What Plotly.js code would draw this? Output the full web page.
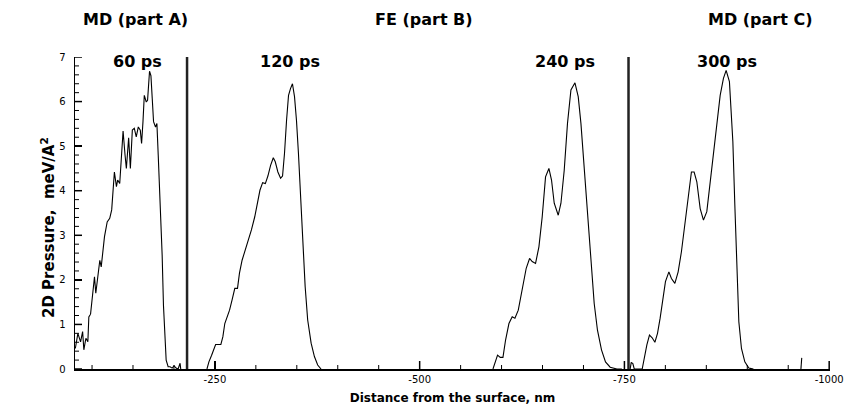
<!DOCTYPE html>
<html>
<head>
<meta charset="utf-8">
<script src="https://cdn.plot.ly/plotly-3.0.1.min.js"></script>
<style>html,body{margin:0;padding:0;background:#fff;}#chart{width:845px;height:411px;}</style>
</head>
<body>
<div id="chart"></div>
<script>
// 60 ps (MD part A)
const x60 = [-79.6,-82.7,-86.0,-88.5,-90.0,-92.5,-94.9,-96.1,-98.2,-100.6,-103.0,-104.6,-107.0,-109.5,-111.2,-112.8,-115.2,-118.5,-121.6,-124.0,-125.7,-127.3,-129.8,-131.3,-133.8,-135.5,-137.9,-140.3,-141.9,-144.7,-146.8,-149.2,-151.6,-154.0,-156.5,-158.9,-160.5,-162.2,-163.8,-166.2,-167.8,-170.2,-171.9,-173.5,-175.1,-177.5,-179.2,-180.8,-182.3,-184.0,-185.6,-187.2,-188.9,-190.5,-192.9,-195.3,-197.8,-200.2,-202.6,-205.1,-207.5,-208.3];
const y60 = [0.46,0.80,0.61,0.84,0.43,0.69,0.61,1.17,1.23,1.70,2.07,1.70,2.11,2.44,2.29,2.56,2.97,3.30,3.38,3.57,3.94,4.42,4.09,4.24,4.16,4.57,5.34,4.80,4.50,5.19,4.50,5.36,5.40,5.21,5.43,5.36,5.06,5.55,6.14,5.99,6.03,6.68,6.58,6.07,5.55,5.43,5.51,4.80,4.20,3.53,2.56,1.43,0.61,0.20,0.05,0.05,0.02,0.07,0.02,0.00,0.13,0.00];
// 120 ps (FE part B)
const x120 = [-240.3,-242.7,-246.0,-250.9,-257.3,-259.7,-262.1,-264.6,-267.9,-271.0,-274.3,-277.6,-280.0,-283.2,-286.4,-290.4,-294.6,-298.6,-301.9,-305.0,-308.3,-311.6,-314.7,-318.0,-321.3,-323.7,-326.9,-330.2,-332.6,-335.0,-337.5,-339.9,-342.3,-344.7,-347.2,-349.6,-352.0,-354.5,-356.9,-360.2,-363.3,-367.5,-371.5,-375.5,-379.6];
const y120 = [0,0.16,0.31,0.55,0.55,0.72,1.02,1.14,1.32,1.55,1.81,1.81,2.15,2.44,2.63,2.82,3.12,3.41,3.72,4.01,4.18,4.16,4.33,4.57,4.74,4.65,4.42,4.28,4.33,4.84,5.58,6.14,6.29,6.40,6.11,5.58,4.84,3.86,2.97,1.85,1.10,0.58,0.28,0.09,0];
// 240 ps (FE part B)
const x240 = [-589.5,-591.9,-595.1,-598.4,-601.7,-604.9,-609.0,-613.0,-616.3,-620.4,-623.7,-626.8,-630.1,-634.2,-637.4,-641.5,-645.6,-649.6,-653.7,-657.8,-661.0,-664.3,-669.2,-672.5,-676.5,-680.5,-684.7,-689.6,-693.6,-696.9,-700.9,-704.9,-709.1,-713.1,-717.1,-722.0,-726.9,-732.6,-740.8,-746.9];
const y240 = [0,0.13,0.31,0.26,0.26,0.65,1.02,1.17,1.14,1.32,1.62,1.92,2.26,2.48,2.41,2.37,2.74,3.41,4.31,4.50,4.24,3.72,3.45,3.72,4.46,5.51,6.26,6.42,6.11,5.51,4.54,3.57,2.37,1.47,0.87,0.43,0.16,0.04,0,0];
// 300 ps (MD part C)
const x300 = [-757,-758.3,-760.3,-762,-771.7,-774.1,-777.4,-780.6,-783.9,-787.2,-790.4,-793.6,-796.9,-800.1,-804.3,-807.4,-811.6,-815.6,-819.6,-823.8,-827.8,-831.8,-835.1,-838.4,-842.5,-846.5,-850.6,-854.7,-858.7,-862.8,-866.9,-870.9,-874.2,-878.2,-882.4,-884.8,-887.2,-889.7,-892.9,-897.0,-901.9,-907.5];
const y300 = [0,0.15,0.12,0,0,0.24,0.54,0.76,0.70,0.60,0.80,1.14,1.58,1.96,2.18,2.03,1.92,2.18,2.63,3.23,3.90,4.42,4.42,4.20,3.60,3.34,3.53,4.20,4.95,5.55,6.14,6.52,6.70,6.45,5.10,3.68,2.18,1.06,0.46,0.16,0.02,0];
// small spike near -966
const xSpike = [-965.5,-966.5];
const ySpike = [0,0.25];
// boundaries between MD / FE / MD regions
const boundaryX = [-216,-755];
const boundaryY = [0,7];

const xTickVals = [-250,-500,-750,-1000];
const xTickText = ['-250','-500','-750','-1000'];
const yTickVals = [0,1,2,3,4,5,6,7];
const yTickText = ['0','1','2','3','4','5','6','7'];
const xMinorStep = 50;
const yMinorStep = 0.2;

const regionLabels = ['MD (part A)','FE (part B)','MD (part C)'];
const timeLabels = ['60 ps','120 ps','240 ps','300 ps'];
const xTitle = 'Distance from the surface, nm';
const yTitle = '2D Pressure,\u00a0\u00a0meV/A<sup>2</sup>';

const FONT = 'DejaVu Sans';
const lineStyle = {color:'#000', width:1.1};
const X_RANGE = [-79.2, -1001];
const Y_RANGE = [0, 7];
const PLOT_W = 755, PLOT_H = 312;

const traces = [
  {x:x60, y:y60, mode:'lines', line:lineStyle, name:timeLabels[0], hoverinfo:'skip'},
  {x:x120, y:y120, mode:'lines', line:lineStyle, name:timeLabels[1], hoverinfo:'skip'},
  {x:x240, y:y240, mode:'lines', line:lineStyle, name:timeLabels[2], hoverinfo:'skip'},
  {x:x300, y:y300, mode:'lines', line:lineStyle, name:timeLabels[3], hoverinfo:'skip'},
  {x:xSpike, y:ySpike, mode:'lines', line:lineStyle, hoverinfo:'skip'},
  {x:[boundaryX[0],boundaryX[0]], y:boundaryY, mode:'lines', line:{color:'#222', width:2.5}, hoverinfo:'skip'},
  {x:[boundaryX[1],boundaryX[1]], y:boundaryY, mode:'lines', line:{color:'#222', width:2.5}, hoverinfo:'skip'}
];

// inside tick marks, placed through the axes' own scales from the tick values
const shapes = [];
function xTick(v, len, w){
  shapes.push({type:'line', xref:'x', yref:'paper', x0:v, x1:v, y0:0, y1:len/PLOT_H, line:{color:'#000', width:w}});
}
function yTick(v, len, w){
  shapes.push({type:'line', xref:'paper', yref:'y', x0:0, x1:len/PLOT_W, y0:v, y1:v, line:{color:'#000', width:w}});
}
xTickVals.forEach(v => xTick(v, 8, 1.5));
for (let v = -xMinorStep; v >= X_RANGE[1]; v -= xMinorStep) {
  if (v > X_RANGE[0]) continue;
  if (xTickVals.indexOf(v) < 0) xTick(v, 4, 1);
}
yTickVals.forEach(v => yTick(v, 7, 1.5));
for (let i = 1; i * yMinorStep < Y_RANGE[1] - 1e-9; i++) {
  const v = Math.round(i * yMinorStep * 10) / 10;
  if (yTickVals.indexOf(v) < 0) yTick(v, 4, 1);
}

function ann(text, x, y, size, extra){
  return Object.assign({text:'<b>'+text+'</b>', x:x, y:y, xref:'paper', yref:'paper',
    xanchor:'center', yanchor:'middle', showarrow:false,
    font:{family:FONT, size:size, color:'#000'}}, extra||{});
}

const layout = {
  width:845, height:411,
  margin:{l:75, r:15, t:57, b:42, pad:0},
  paper_bgcolor:'#fff', plot_bgcolor:'#fff',
  showlegend:false,
  xaxis:{
    range:X_RANGE,
    tickmode:'array', tickvals:xTickVals, ticktext:xTickText,
    ticks:'inside', ticklen:8, tickwidth:1.5, tickcolor:'#000',
    showline:true, linecolor:'#000', linewidth:2,
    showgrid:false, zeroline:false,
    tickfont:{family:FONT, size:10, color:'#000'},
    title:{text:'<b>'+xTitle+'</b>', font:{family:FONT, size:12, color:'#000'}, standoff:10}
  },
  yaxis:{
    range:Y_RANGE,
    tickmode:'array', tickvals:yTickVals, ticktext:yTickText,
    ticks:'inside', ticklen:7, tickwidth:1.5, tickcolor:'#000',
    showline:true, linecolor:'#000', linewidth:1.5,
    showgrid:false, zeroline:false,
    tickfont:{family:FONT, size:10, color:'#000'},
    ticklabelstandoff:6
  },
  shapes:shapes,
  annotations:[
    ann(regionLabels[0], 0.0795, 1.1186, 16),
    ann(regionLabels[1], 0.4623, 1.1186, 16),
    ann(regionLabels[2], 0.9073, 1.1186, 16),
    ann(timeLabels[0], 0.0828, 0.984, 16),
    ann(timeLabels[1], 0.2848, 0.984, 16),
    ann(timeLabels[2], 0.649, 0.984, 16),
    ann(timeLabels[3], 0.8642, 0.984, 16),
    ann(yTitle, -0.0358, 0.455, 15, {textangle:-90})
  ]
};

Plotly.newPlot('chart', traces, layout, {staticPlot:true, displayModeBar:false});
</script>
</body>
</html>
